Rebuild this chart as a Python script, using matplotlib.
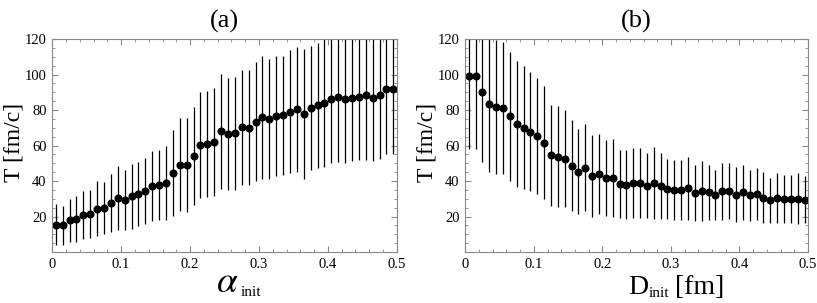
import numpy as np
import matplotlib
matplotlib.use('Agg')
import matplotlib.pyplot as plt
from matplotlib.ticker import MultipleLocator, FuncFormatter

plt.rcParams['font.family'] = ['Liberation Serif', 'DejaVu Serif']
plt.rcParams['mathtext.fontset'] = 'stix'

######## data
# x positions (bin centres), same for both panels
x_bins = [0.005 + 0.01 * i for i in range(50)]

# (a) T vs alpha_init : mean and half-width of error bar
T_a = [15.5, 15.2, 17.8, 18.8, 20.7, 21.6, 24.4, 24.8, 27.6, 30.6,
       29.3, 31.4, 32.7, 34.2, 37.2, 37.7, 39.0, 44.5, 49.2, 49.0,
       54.1, 60.3, 60.8, 62.0, 68.0, 66.3, 66.9, 70.2, 70.0, 73.4,
       75.9, 75.1, 76.6, 77.0, 79.2, 80.4, 77.9, 81.3, 82.6, 83.8,
       86.4, 87.1, 86.2, 86.9, 87.5, 88.6, 86.9, 88.6, 92.0, 92.0]
err_a = [11.6, 11.0, 12.3, 13.0, 13.6, 13.5, 15.5, 14.6, 16.4, 17.9,
         16.7, 18.3, 18.0, 18.6, 19.9, 19.8, 20.9, 24.4, 26.2, 26.4,
         27.8, 30.0, 29.9, 30.6, 32.4, 31.5, 31.8, 32.2, 32.4, 33.5,
         34.6, 33.9, 34.0, 33.7, 34.6, 35.2, 36.5, 34.8, 35.2, 36.1,
         36.1, 36.4, 35.9, 35.8, 35.7, 36.8, 35.6, 36.2, 36.6, 36.6]

# (b) T vs D_init
T_b = [99.0, 99.0, 90.3, 83.2, 81.7, 81.3, 76.4, 72.1, 70.0, 67.8,
       65.5, 61.6, 54.5, 53.7, 52.6, 48.6, 45.2, 47.5, 42.8, 43.9,
       41.7, 41.7, 38.5, 37.9, 38.9, 38.9, 37.4, 39.0, 37.2, 35.5,
       34.8, 35.1, 35.9, 33.2, 34.4, 33.6, 32.1, 34.2, 34.4, 32.3,
       33.6, 31.9, 32.7, 30.6, 29.1, 30.6, 30.0, 29.9, 30.1, 29.5]
err_b = [40.8, 40.8, 39.4, 38.1, 37.9, 37.1, 36.4, 35.4, 34.6, 33.5,
         32.8, 31.9, 28.4, 28.4, 27.4, 25.6, 23.9, 24.6, 23.0, 22.7,
         21.3, 21.8, 19.1, 19.4, 19.8, 19.6, 18.4, 20.2, 18.4, 17.0,
         17.0, 17.0, 17.7, 15.7, 16.9, 15.6, 14.2, 16.1, 15.7, 15.6,
         15.6, 14.6, 14.7, 14.3, 12.7, 14.1, 13.7, 13.3, 14.3, 13.3]

xticks = [0, 0.1, 0.2, 0.3, 0.4, 0.5]
yticks = [20, 40, 60, 80, 100, 120]


def fmt_x(v, pos):
    return '0' if abs(v) < 1e-9 else ('%.1f' % v)


def style_axes(ax):
    ax.set_xlim(0, 0.5)
    ax.set_ylim(0, 120)
    ax.set_xticks(xticks)
    ax.set_yticks(yticks)
    ax.xaxis.set_major_formatter(FuncFormatter(fmt_x))
    ax.xaxis.set_minor_locator(MultipleLocator(0.02))
    ax.yaxis.set_minor_locator(MultipleLocator(5))
    ax.tick_params(which='both', direction='in', top=True, right=True,
                   color='#888888', labelsize=10.5, pad=4)
    ax.tick_params(which='major', length=4, width=0.8)
    ax.tick_params(which='minor', length=2, width=0.6)
    for s in ax.spines.values():
        s.set_color('#888888')
        s.set_linewidth(0.8)


fig = plt.figure(figsize=(8.17, 3.03), dpi=100)
ax1 = fig.add_axes([0.064, 0.168, 0.4216, 0.703])
ax2 = fig.add_axes([0.5695, 0.168, 0.4195, 0.703])

ax1.errorbar(x_bins, T_a, yerr=err_a, fmt='o', color='black', ms=4.8,
             elinewidth=0.9, capsize=0)
ax2.errorbar(x_bins, T_b, yerr=err_b, fmt='o', color='black', ms=4.8,
             elinewidth=0.9, capsize=0)

style_axes(ax1)
style_axes(ax2)

ax1.set_title('(a)', fontsize=19, pad=8)
ax2.set_title('(b)', fontsize=19, pad=8)

# y labels
fig.text(0.017, 0.53, 'T [fm/c]', fontsize=17, rotation=90,
         ha='center', va='center')
fig.text(0.523, 0.53, 'T [fm/c]', fontsize=17, rotation=90,
         ha='center', va='center')

# x labels built from pieces so the subscript is small
fig.text(0.292, 0.035, r'$\alpha$', fontsize=27, ha='right', va='baseline')
fig.text(0.294, 0.022, 'init', fontsize=11, ha='left', va='baseline')
fig.text(0.793, 0.03, 'D', fontsize=20, ha='right', va='baseline')
fig.text(0.794, 0.02, 'init', fontsize=11, ha='left', va='baseline')
fig.text(0.826, 0.03, '[fm]', fontsize=20, ha='left', va='baseline')

fig.savefig('out.png', dpi=100)
